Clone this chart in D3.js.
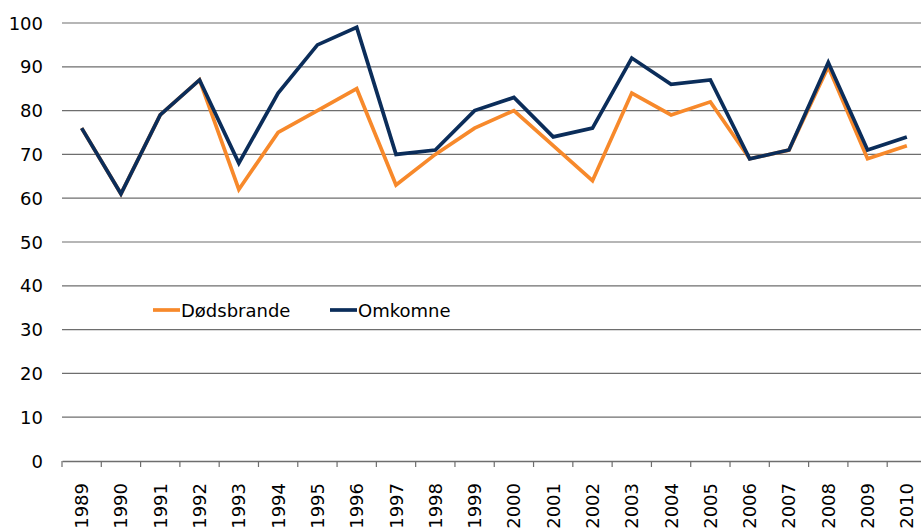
<!DOCTYPE html>
<html>
<head>
<meta charset="utf-8">
<script src="https://cdn.jsdelivr.net/npm/d3@7"></script>
<style>
  body { margin: 0; background: #fff; }
  svg { display: block; }
  text { font-family: "DejaVu Sans", Verdana, sans-serif; fill: #000; }
</style>
</head>
<body>
<svg id="chart" width="921" height="529"></svg>
<script>
var years = ['1989','1990','1991','1992','1993','1994','1995','1996','1997','1998','1999',
             '2000','2001','2002','2003','2004','2005','2006','2007','2008','2009','2010']
var doedsbrande = [76,61,79,87,62,75,80,85,63,70,76,80,72,64,84,79,82,69,71,90,69,72]
var omkomne     = [76,61,79,87,68,84,95,99,70,71,80,83,74,76,92,86,87,69,71,91,71,74]
var yTicks = [0,10,20,30,40,50,60,70,80,90,100]

var svg = d3.select('#chart')
var plotLeft = 62, plotRight = 926.5, plotTop = 23, plotBottom = 461

var x = d3.scaleBand().domain(years).range([plotLeft, plotRight])
var y = d3.scaleLinear().domain([0, 100]).range([plotBottom, plotTop])

// gridlines
svg.append('g')
    .selectAll('line')
    .data(yTicks.filter(function(d) { return d > 0 }))
    .enter()
    .append('line')
    .attr('x1', plotLeft).attr('x2', 921)
    .attr('y1', function(d) { return y(d) }).attr('y2', function(d) { return y(d) })
    .attr('stroke', '#6e6e6e')
    .attr('stroke-width', 1.2)

// y labels
svg.append('g')
    .selectAll('text')
    .data(yTicks)
    .enter()
    .append('text')
    .attr('x', 43)
    .attr('y', function(d) { return y(d) + 6.5 })
    .attr('text-anchor', 'end')
    .style('font-size', '18px')
    .text(function(d) { return d })

// x axis
var xAxis = svg.append('g')
    .attr('transform', 'translate(0,' + plotBottom + ')')
    .call(d3.axisBottom(x).tickSize(0).tickFormat(''))
xAxis.select('.domain').attr('stroke', '#6e6e6e').attr('stroke-width', 1.5)
xAxis.selectAll('.boundary')
    .data(years.map(function(d) { return x(d) }))
    .enter()
    .append('line')
    .attr('x1', function(d) { return d }).attr('x2', function(d) { return d })
    .attr('y1', 0).attr('y2', 6)
    .attr('stroke', '#6e6e6e')
    .attr('stroke-width', 1.2)

svg.append('g')
    .selectAll('text')
    .data(years)
    .enter()
    .append('text')
    .attr('transform', function(d) {
        return 'translate(' + (x(d) + x.bandwidth() / 2 + 6.5) + ',' + 483 + ') rotate(-90)'
    })
    .attr('text-anchor', 'end')
    .style('font-size', '18px')
    .text(function(d) { return d })

// lines
var line = d3.line()
    .x(function(d, i) { return x(years[i]) + x.bandwidth() / 2 })
    .y(function(d) { return y(d) })

svg.append('path')
    .datum(doedsbrande)
    .attr('d', line)
    .attr('fill', 'none')
    .attr('stroke', '#f7892b')
    .attr('stroke-width', 3.7)

svg.append('path')
    .datum(omkomne)
    .attr('d', line)
    .attr('fill', 'none')
    .attr('stroke', '#0b2d5a')
    .attr('stroke-width', 3.7)

// legend
var legend = [
    { name: 'Dødsbrande', color: '#f7892b', x: 153 },
    { name: 'Omkomne', color: '#0b2d5a', x: 330 }
]
var lg = svg.append('g').selectAll('g').data(legend).enter().append('g')
lg.append('line')
    .attr('x1', function(d) { return d.x }).attr('x2', function(d) { return d.x + 27 })
    .attr('y1', 310).attr('y2', 310)
    .attr('stroke', function(d) { return d.color })
    .attr('stroke-width', 3.7)
lg.append('text')
    .attr('x', function(d) { return d.x + 28 })
    .attr('y', 317)
    .style('font-size', '18px')
    .text(function(d) { return d.name })
</script>
</body>
</html>
